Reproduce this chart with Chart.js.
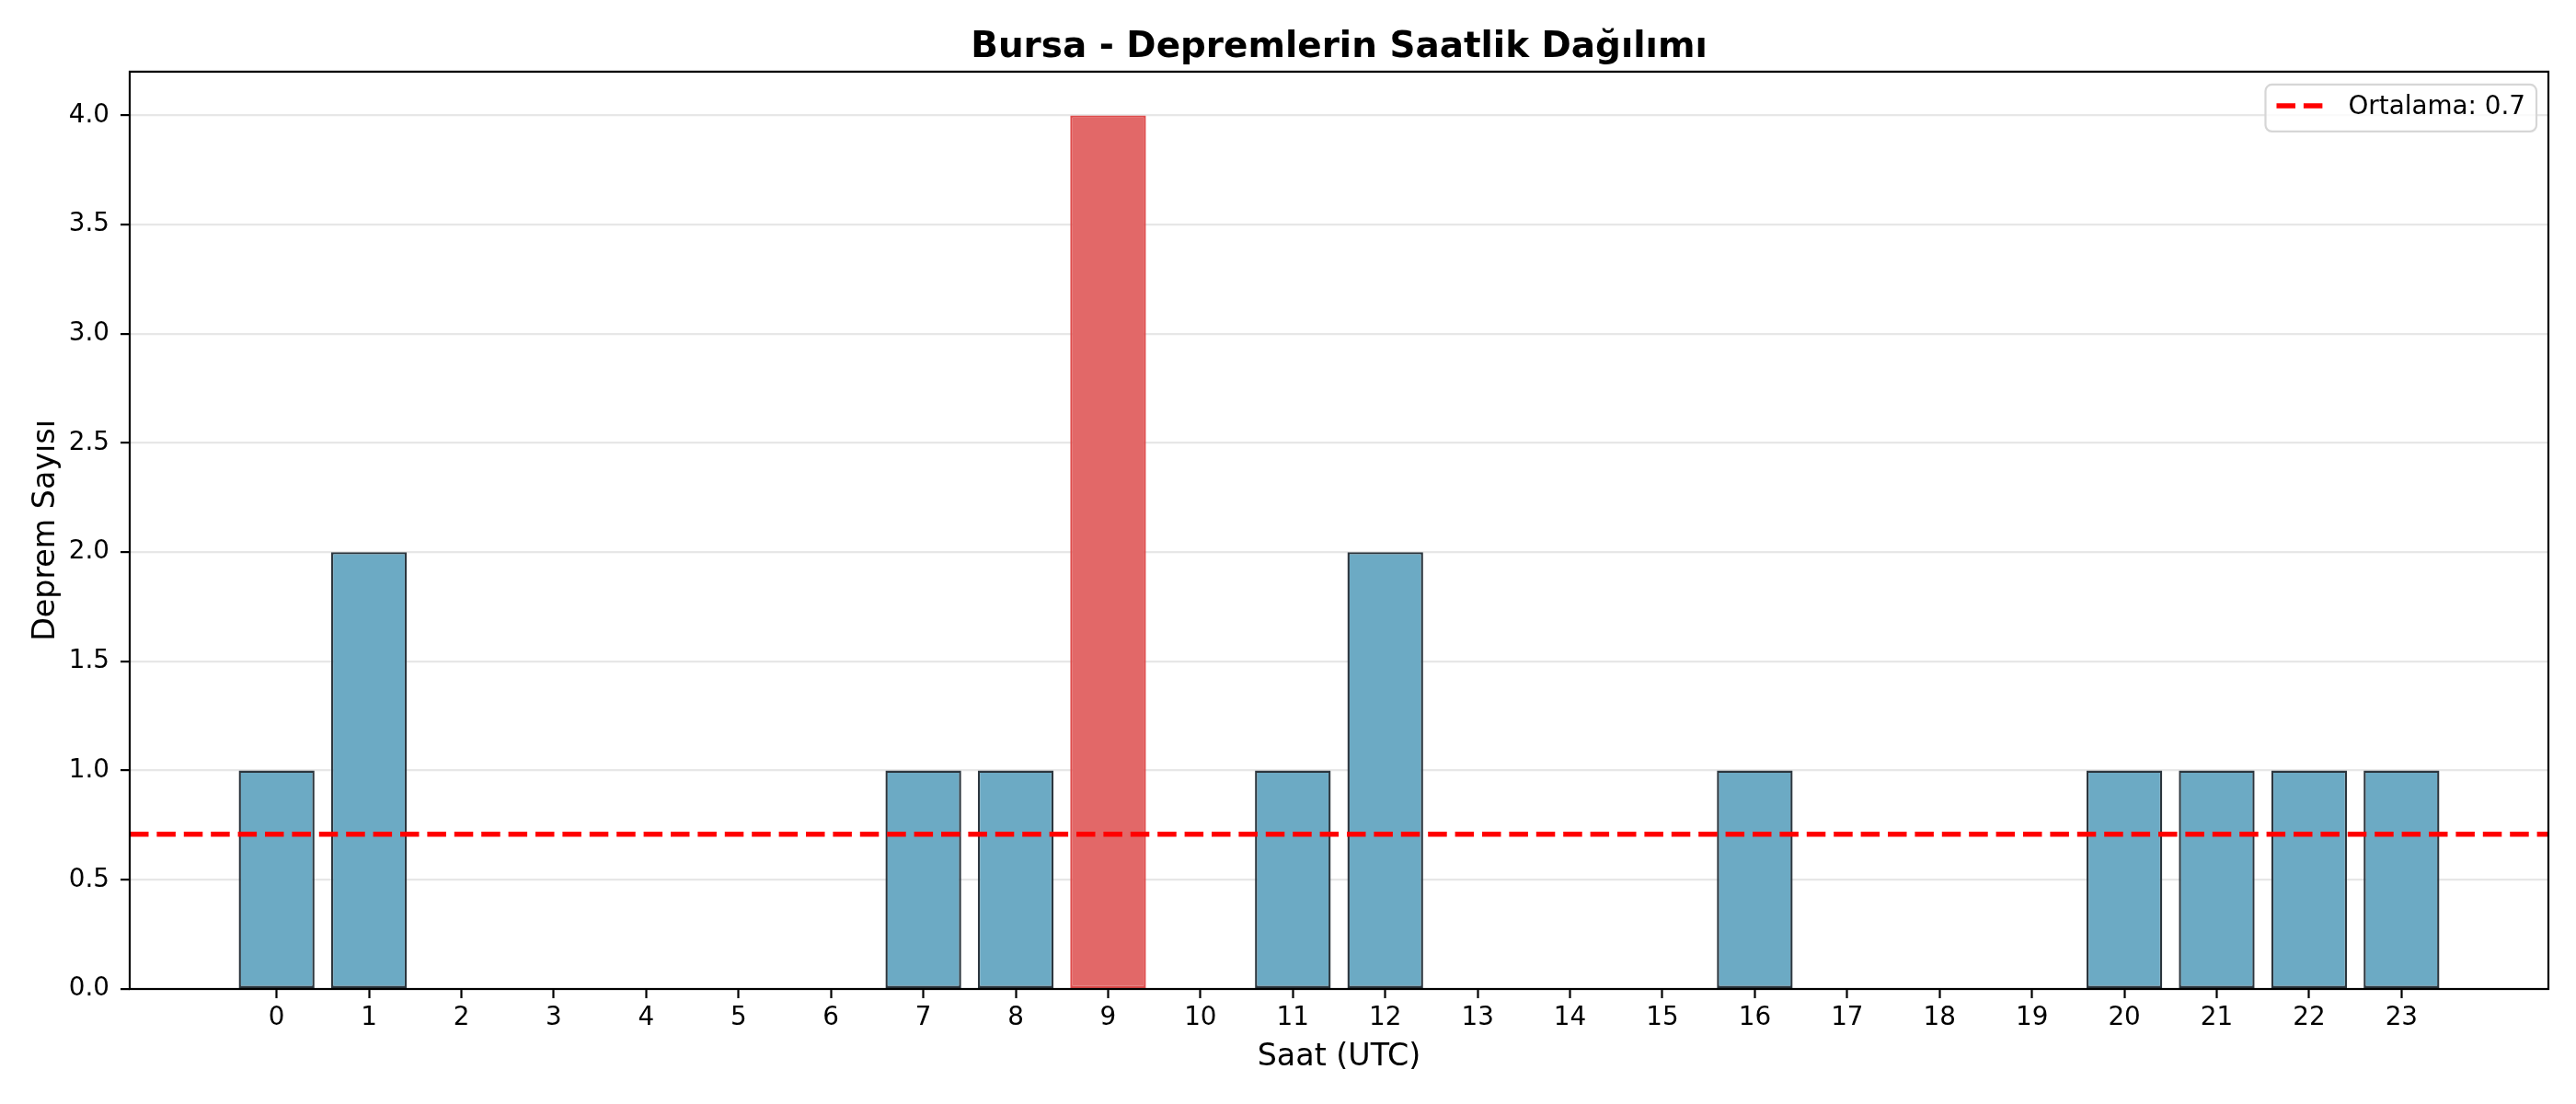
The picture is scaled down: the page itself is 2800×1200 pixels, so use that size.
<!DOCTYPE html>
<html><head><meta charset="utf-8">
<script src="https://cdn.jsdelivr.net/npm/chart.js@4"></script>
<style>html,body{margin:0;padding:0;background:#fff;} canvas{display:block;}</style>
</head><body>
<canvas id="c" width="2800" height="1200"></canvas>
<script>
const hours = [0,1,2,3,4,5,6,7,8,9,10,11,12,13,14,15,16,17,18,19,20,21,22,23];
const counts = [1,2,0,0,0,0,0,1,1,4,0,1,2,0,0,0,1,0,0,0,1,1,1,1];
const yTicks = [0,0.5,1,1.5,2,2.5,3,3.5,4];
const titleText = 'Bursa - Depremlerin Saatlik Dağılımı';
const xLabel = 'Saat (UTC)';
const yLabel = 'Deprem Sayısı';
const xMin = -1.59, xMax = 24.59, yMin = 0, yMax = 4.2;

const mean = counts.reduce((a, b) => a + b, 0) / counts.length;
const maxCount = Math.max(...counts);
const FONT = '"DejaVu Sans", sans-serif';

const blueFill = 'rgb(108,170,196)', blueEdge = 'rgb(44,54,62)';
const redFill = 'rgb(226,104,104)', redEdge = 'rgb(222,76,76)';

const frame = {
  id: 'frame',
  afterDraw(chart) {
    const ctx = chart.ctx, a = chart.chartArea;
    ctx.save();
    ctx.strokeStyle = '#000';
    ctx.lineWidth = 2.2;
    ctx.strokeRect(a.left, a.top, a.right - a.left, a.bottom - a.top);
    // legend
    const ds = chart.data.datasets[1];
    ctx.font = '27.8px ' + FONT;
    const tw = ctx.measureText(ds.label).width;
    const w = tw + 102, h = 51;
    const right = a.right - 13, top = a.top + 14, left = right - w;
    const r = 7;
    ctx.beginPath();
    ctx.moveTo(left + r, top);
    ctx.lineTo(right - r, top);
    ctx.arcTo(right, top, right, top + r, r);
    ctx.lineTo(right, top + h - r);
    ctx.arcTo(right, top + h, right - r, top + h, r);
    ctx.lineTo(left + r, top + h);
    ctx.arcTo(left, top + h, left, top + h - r, r);
    ctx.lineTo(left, top + r);
    ctx.arcTo(left, top, left + r, top, r);
    ctx.closePath();
    ctx.fillStyle = 'rgba(255,255,255,0.8)';
    ctx.fill();
    ctx.strokeStyle = 'rgb(214,214,214)';
    ctx.lineWidth = 2.2;
    ctx.stroke();
    ctx.beginPath();
    ctx.setLineDash(ds.borderDash);
    ctx.strokeStyle = ds.borderColor;
    ctx.lineWidth = ds.borderWidth;
    ctx.moveTo(left + 12, top + 23);
    ctx.lineTo(left + 62, top + 23);
    ctx.stroke();
    ctx.setLineDash([]);
    ctx.fillStyle = '#000';
    ctx.textBaseline = 'alphabetic';
    ctx.textAlign = 'left';
    ctx.fillText(ds.label, left + 90, top + 32);
    ctx.restore();
  }
};

new Chart(document.getElementById('c'), {
  data: {
    datasets: [
      {
        type: 'bar',
        label: 'Deprem',
        data: hours.map((h, i) => ({ x: h, y: counts[i] })),
        backgroundColor: counts.map(v => v === maxCount ? redFill : blueFill),
        borderColor: counts.map(v => v === maxCount ? redEdge : blueEdge),
        borderWidth: 2.4,
        borderSkipped: false,
        barPercentage: 0.82,
        categoryPercentage: 1.0,
        order: 2
      },
      {
        type: 'line',
        label: 'Ortalama: ' + mean.toFixed(1),
        data: [{ x: xMin, y: mean }, { x: xMax, y: mean }],
        borderColor: '#ff0000',
        borderWidth: 5.5,
        borderDash: [20.5, 8.9],
        pointRadius: 0,
        fill: false,
        order: 1
      }
    ]
  },
  options: {
    responsive: false,
    animation: false,
    devicePixelRatio: 1,
    layout: { padding: { left: 0, right: 30, top: 0, bottom: 0 } },
    plugins: {
      legend: { display: false },
      tooltip: { enabled: false },
      title: {
        display: true,
        text: titleText,
        fullSize: false,
        color: '#000',
        font: { family: FONT, size: 38.9, weight: 'bold', lineHeight: 1 },
        padding: { top: 32, bottom: 7 }
      }
    },
    scales: {
      x: {
        type: 'linear',
        min: xMin, max: xMax,
        offset: false,
        afterBuildTicks(scale) { scale.ticks = hours.map(v => ({ value: v })); },
        afterFit(scale) { scale.height = 125; },
        grid: { display: true, drawOnChartArea: false, drawTicks: true, tickLength: 10, tickColor: '#000', tickWidth: 2.2, offset: false },
        border: { display: false },
        ticks: { color: '#000', font: { family: FONT, size: 27.8 }, padding: 5, maxRotation: 0, autoSkip: false, callback: v => String(v) },
        title: { display: true, text: xLabel, color: '#000', font: { family: FONT, size: 33.3, lineHeight: 1 }, padding: { top: 0, bottom: 34 } }
      },
      y: {
        type: 'linear',
        min: yMin, max: yMax,
        z: 1,
        afterBuildTicks(scale) { scale.ticks = yTicks.map(v => ({ value: v })); },
        afterFit(scale) { scale.width = 141; },
        grid: { color: 'rgba(176,176,176,0.3)', lineWidth: 2.2, tickLength: 10, tickColor: '#000', tickWidth: 2.2 },
        border: { display: false },
        ticks: { color: '#000', font: { family: FONT, size: 27.8 }, padding: 12, callback: v => Number(v).toFixed(1) },
        title: { display: true, text: yLabel, color: '#000', font: { family: FONT, size: 33.3, lineHeight: 1 }, padding: { top: 34, bottom: 0 } }
      }
    }
  },
  plugins: [frame]
});
</script>
</body></html>
